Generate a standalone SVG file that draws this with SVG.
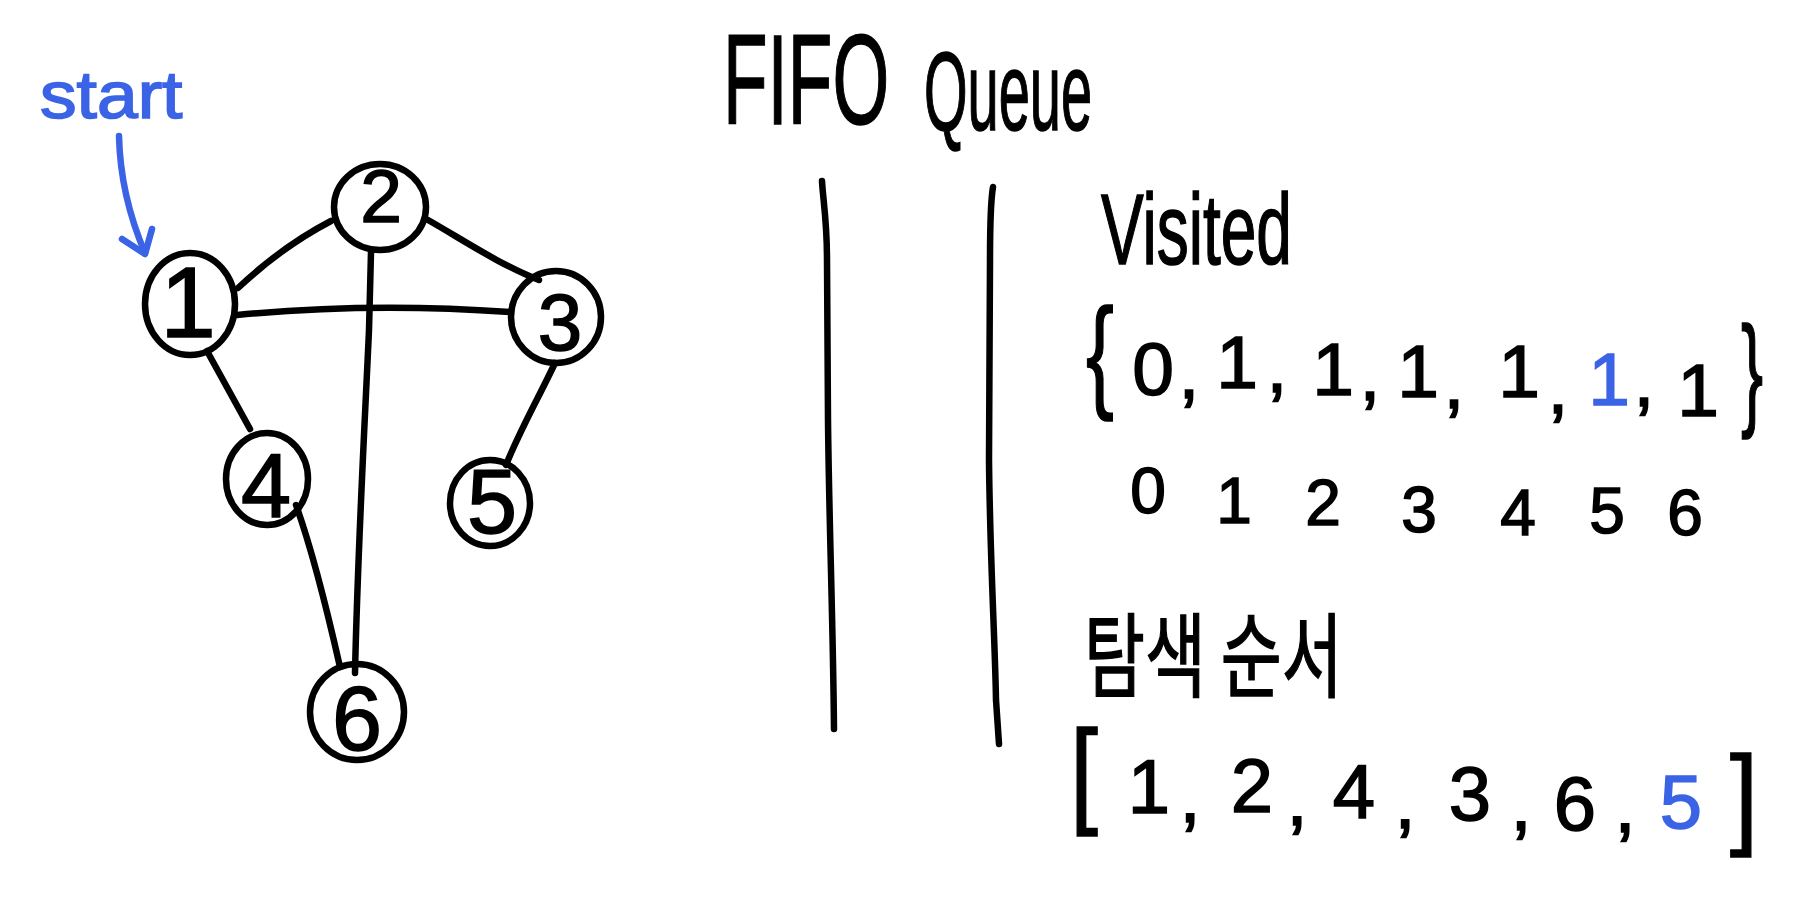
<svg xmlns="http://www.w3.org/2000/svg" width="1808" height="919" viewBox="0 0 1808 919">
<style>
.ln{fill:none;stroke:#000;stroke-width:6.5;stroke-linecap:round;stroke-linejoin:round}
.bl{fill:none;stroke:#3b63e6;stroke-width:6.5;stroke-linecap:round;stroke-linejoin:round}
.t{font-family:"Liberation Sans","Noto Sans",sans-serif;fill:#000;stroke:#000;stroke-width:1.5}
.b{fill:#3b63e6;stroke:#3b63e6}
.nd{font-family:"Liberation Sans","Noto Sans",sans-serif;fill:#000;stroke:#000;stroke-width:1.5;text-anchor:middle}
.c{text-anchor:middle}
.kr{font-family:"Noto Sans CJK KR","Noto Sans",sans-serif;fill:#000;stroke:#000;stroke-width:1.5}
</style>
<rect width="1808" height="919" fill="#fff"/>

<g id="start-label">
<text class="t b" transform="translate(40,118) scale(1.22,1.1)" font-size="60">start</text>
<path class="bl" d="M119,136 C120,180 130,218 145,253"/>
<path class="bl" d="M122,239 L145,254 L152,229"/>
</g>

<g id="connectors">
<path class="ln" d="M238,288 C255,272 285,245 331,221"/>
<path class="ln" d="M428,220 C460,238 500,265 539,280"/>
<path class="ln" d="M237,315 Q370,302 510,312"/>
<path class="ln" d="M371,252 L369,330 C365,420 358,540 355,673"/>
<path class="ln" d="M207,351 L250,429"/>
<path class="ln" d="M555,363 C540,395 520,430 506,465"/>
<path class="ln" d="M296,505 C305,530 318,570 340,667"/>
</g>

<g id="node1">
<ellipse class="ln" cx="190" cy="304" rx="45" ry="51"/>
<text class="nd" x="188" y="337" font-size="100">1</text>
</g>
<g id="node2">
<ellipse class="ln" cx="380" cy="207" rx="46" ry="43"/>
<text class="nd" x="381" y="222" font-size="75">2</text>
</g>
<g id="node3">
<ellipse class="ln" cx="556" cy="317" rx="45" ry="46"/>
<text class="nd" x="560" y="350" font-size="80">3</text>
</g>
<g id="node4">
<ellipse class="ln" cx="267" cy="479" rx="41" ry="46"/>
<text class="nd" x="266" y="517" font-size="90">4</text>
</g>
<g id="node5">
<ellipse class="ln" cx="490" cy="503" rx="40" ry="43"/>
<text class="nd" x="492" y="533" font-size="90">5</text>
</g>
<g id="node6">
<ellipse class="ln" cx="357" cy="712" rx="47" ry="48"/>
<text class="nd" x="357" y="750" font-size="90">6</text>
</g>

<g id="queue">
<text class="t" transform="translate(723,124) scale(0.57,1)" font-size="128">FIFO</text>
<text class="t" transform="translate(924,130) scale(0.5,1)" font-size="112">Queue</text>
<path class="ln" d="M822,181 C823,200 827,220 827,260 L828,420 C829,520 833,620 834,729"/>
<path class="ln" d="M993,187 C990,205 990,230 990,260 L989,460 C990,560 995,640 996,700 L999,744"/>
</g>

<g id="visited">
<text class="t" transform="translate(1101,264) scale(0.64,1)" font-size="100">Visited</text>
<text class="t" transform="translate(1086,395) scale(0.67,1)" font-size="125">{</text>
<g class="t c" font-size="75">
<text x="1153" y="395">0</text>
<text x="1189" y="398">,</text>
<text x="1237" y="388">1</text>
<text x="1277" y="392">,</text>
<text x="1333" y="395">1</text>
<text x="1370" y="400">,</text>
<text x="1418" y="397">1</text>
<text x="1454" y="408">,</text>
<text x="1519" y="397">1</text>
<text x="1558" y="413">,</text>
<text class="b" x="1609" y="405">1</text>
<text x="1644" y="406">,</text>
<text x="1698" y="416">1</text>
</g>
<text class="t" transform="translate(1741,413) scale(0.53,1)" font-size="125">}</text>
<g class="t c" font-size="64">
<text x="1148" y="513">0</text>
<text x="1234" y="523">1</text>
<text x="1323" y="525">2</text>
<text x="1419" y="532">3</text>
<text x="1518" y="535">4</text>
<text x="1607" y="533">5</text>
<text x="1685" y="535">6</text>
</g>
</g>

<g id="order">
<text class="kr" transform="translate(1084,690) scale(0.72,1)" font-size="92">탐색 순서</text>
<text class="t" transform="translate(1070,812) scale(0.86,1)" font-size="117">[</text>
<g class="t c" font-size="76">
<text x="1149" y="813">1</text>
<text x="1190" y="822">,</text>
<text x="1252" y="812">2</text>
<text x="1297" y="825">,</text>
<text x="1354" y="818">4</text>
<text x="1405" y="828">,</text>
<text x="1470" y="820">3</text>
<text x="1521" y="830">,</text>
<text x="1575" y="830">6</text>
<text x="1625" y="832">,</text>
<text class="b" x="1681" y="828">5</text>
</g>
<text class="t" transform="translate(1730,834) scale(0.9,1)" font-size="112">]</text>
</g>
</svg>
